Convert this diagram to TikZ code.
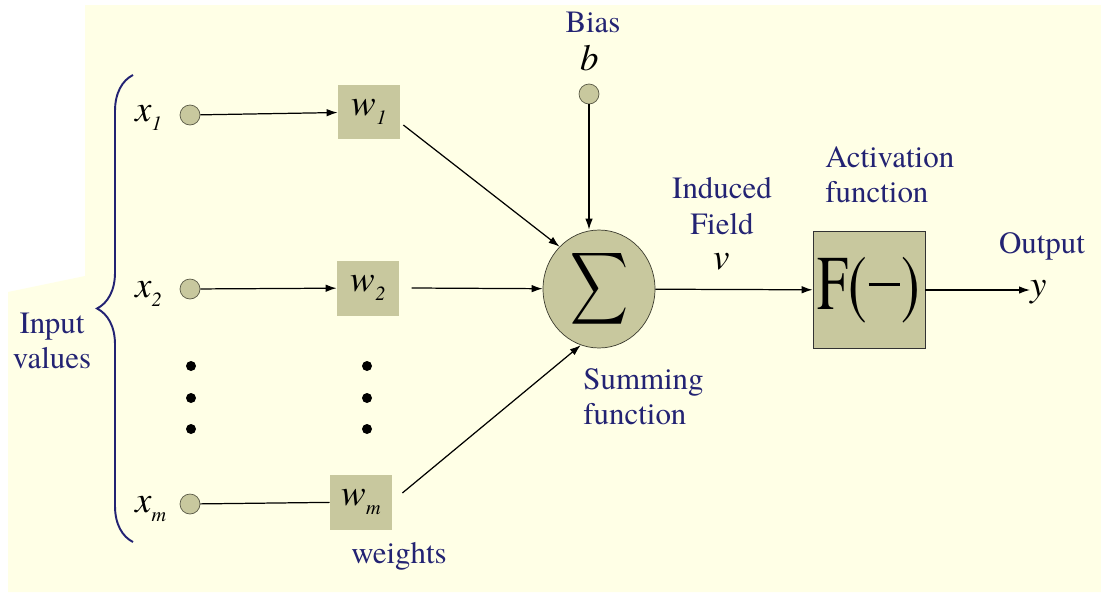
\documentclass[tikz,border=0pt]{standalone}
\usepackage{fontspec}
\setmainfont{TeX Gyre Termes}
\usetikzlibrary{arrows.meta,shapes.geometric,decorations.pathreplacing}

\definecolor{cream}{RGB}{255,255,230}
\definecolor{khaki}{RGB}{200,200,158}
\definecolor{navy}{RGB}{35,35,115}

% lowered index, as in x_1 and w_1
\newcommand{\lowsub}[1]{\raisebox{-5.5pt}{\fontsize{11.5}{12}\selectfont #1}}

\begin{document}
\begin{tikzpicture}[x=0.02cm, y=-0.02cm,
    every node/.style={inner sep=0pt},
    inpt/.style={circle, draw=black!55!khaki, fill=khaki, minimum size=0.4cm},
    wbox/.style={rectangle, fill=khaki, minimum width=1.24cm, minimum height=1.1cm},
    mth/.style={font=\fontsize{21}{24}\selectfont\itshape},
    blu/.style={text=navy, font=\fontsize{17.6}{20.2}\selectfont},
    arr/.style={-{Latex[length=2.2mm,width=1.5mm]}, line width=0.7pt},
    lnk/.style={line width=0.7pt}]

  % -------------------------------------------------------
  % units are pixels of the 1101 x 592 slide, y pointing down
  % -------------------------------------------------------

  % Background
  \fill[white] (0,0) rectangle (1101,592);
  \fill[cream] (85,5) -- (1101,5) -- (1101,592) -- (8,592) -- (8,292) -- (85,276) -- cycle;
  \useasboundingbox (0,0) rectangle (1101,592);

  % Inputs
  \node[inpt] (x1) at (190,115) {};
  \node[inpt] (x2) at (190,289) {};
  \node[inpt] (xm) at (190,504) {};
  \node[mth, anchor=base west] (lx1) at (135,121) {x\lowsub{1}};
  \node[mth, anchor=base west] (lx2) at (135,297) {x\lowsub{2}};
  \node[mth, anchor=base west] (lxm) at (135,512) {x\lowsub{m}};

  % Weights
  \node[wbox, mth] (w1) at (369,112) {w\lowsub{1}};
  \node[wbox, mth] (w2) at (368,288) {w\lowsub{2}};
  \node[wbox, mth] (wm) at (361,502) {w\lowsub{m}};
  \node[blu] (wlab) at (399,556) {weights};

  % Dots between rows
  \foreach \yy in {366,398,429} {
    \fill (191,\yy) circle (0.1cm);
    \fill (367,\yy) circle (0.1cm);
  }

  % Brace and its label
  \coordinate (brbot) at (133,542);
  \coordinate (brtop) at (133,75);
  \draw[navy, line width=1.1pt, decorate, decoration={brace, amplitude=0.72cm}]
    (brbot) -- (brtop);
  \node[blu, align=center] (inlab) at (52,341) {Input\\values};

  % Summing junction
  \node[ellipse, draw=black!70!khaki, fill=khaki, minimum width=2.24cm,
    minimum height=2.36cm] (sum) at (599,289) {\resizebox*{33pt}{46pt}{$\displaystyle\sum$}};
  \node[blu, align=left, anchor=north west] (sumlab) at (583,368) {Summing\\function};

  % Bias
  \node[inpt] (bias) at (589,94) {};
  \node[mth] (blab) at (590,58) {b};
  \node[blu] (biaslab) at (593,22) {Bias};

  % Activation
  \node[rectangle, draw=black!80, fill=khaki, minimum width=2.24cm, minimum height=2.34cm,
    font=\fontsize{44}{44}\selectfont] (F) at (869,290)
    {\scalebox{0.72}[1]{F(\kern1pt\rule[13pt]{25pt}{2.2pt}\kern1pt)}};
  \node[blu, align=left, anchor=north west] (actlab) at (825,146) {Activation\\function};

  % Field and output labels
  \node[blu, align=center] (indlab) at (722,206) {Induced\\Field};
  \node[mth] (vlab) at (722,262) {v};
  \node[blu] (outlab) at (1042,246) {Output};
  \node[mth, anchor=west] (ylab) at (1030,292) {y};

  % Connectors
  \draw[arr] (x1) -- (w1);
  \draw[arr] (x2) -- (w2);
  \draw[lnk] (xm) -- (wm);
  \draw[arr] ([shift={(3,13)}]w1.east) -- (sum.133);
  \draw[arr] ([xshift=7]w2.east) -- (sum);
  \draw[arr] ([shift={(10,-9)}]wm.east) -- (sum.252);
  \draw[arr] (bias) -- (bias |- sum.north);
  \draw[arr] (sum) -- (F);
  \draw[arr] (F.east) -- (F.east -| ylab.west);

\end{tikzpicture}
\end{document}
